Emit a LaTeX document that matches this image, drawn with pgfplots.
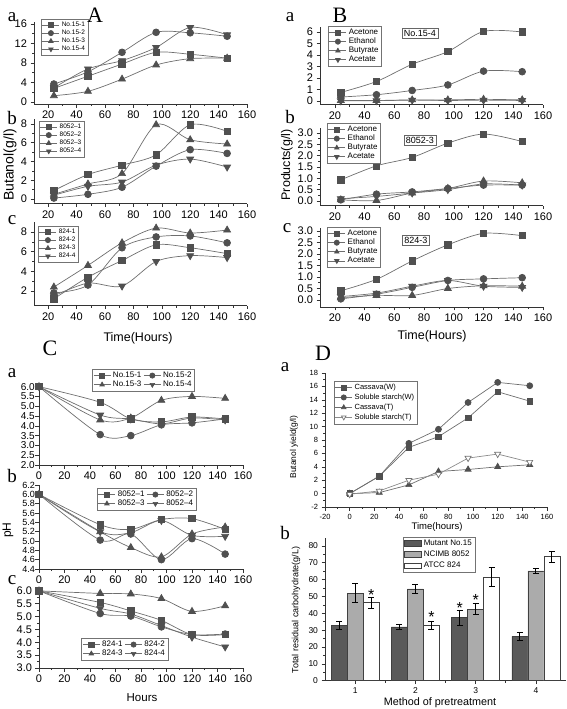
\documentclass[border=0pt]{standalone}
\usepackage{pgfplots}
\pgfplotsset{compat=1.18}
\usepackage{fontspec}
\setmainfont{Liberation Sans}
\newfontfamily\tnr{Liberation Serif}
\definecolor{lineg}{HTML}{6E6E6E}
\definecolor{markg}{HTML}{505050}
\definecolor{bardark}{HTML}{5A5A5A}
\definecolor{barlight}{HTML}{ABABAB}
\newcommand{\fs}[1]{\fontsize{#1}{#1}\selectfont}
\pgfplotsset{
 orig/.style={scale only axis, anchor=south west, axis x line=bottom, axis y line=left,
   axis line style={-, line width=0.7pt, black!80}, tick align=outside,
   tick style={black!80, line width=0.6pt}, major tick length=3.5pt, minor tick length=2pt,
   minor x tick num=1, minor y tick num=1, tick label style={font=\fs{11}},
   /pgf/number format/assume math mode=true, clip=false, legend cell align=left,
   legend style={draw=black!55, line width=0.5pt, inner sep=1pt, outer sep=0pt,
     font=\fs{6.5}, row sep=-2pt, anchor=north west},
   legend image post style={mark size=2.6pt}},
 s1/.style={smooth, color=lineg, line width=0.7pt, mark=square*, mark size=3.2pt, mark options={fill=markg, draw=markg}},
 s2/.style={smooth, color=lineg, line width=0.7pt, mark=*, mark size=3.4pt, mark options={fill=markg, draw=markg}},
 s3/.style={smooth, color=lineg, line width=0.7pt, mark=triangle*, mark size=4pt, mark options={fill=markg, draw=markg}},
 s4/.style={smooth, color=lineg, line width=0.7pt, mark=triangle*, mark size=4pt, mark options={fill=markg, draw=markg, rotate=180}},
 onedec/.style={yticklabel style={/pgf/number format/fixed, /pgf/number format/fixed zerofill, /pgf/number format/precision=1}},
}
\begin{document}
\begin{tikzpicture}
\path[use as bounding box] (0pt,0pt) rectangle (567pt,-709pt);

% ---------------- Panel A ----------------
\begin{axis}[orig, at={(34pt,-104pt)}, width=213pt, height=82.4pt, xmin=10, xmax=160, ymin=-0.4, ymax=16.5,
  xtick={20,40,...,160}, ytick={0,4,...,16}, legend style={at={(axis description cs:0.033,1.03)}}]
\addplot[s1] coordinates {(24,2.8)(48,5.3)(72,7.8)(96,10.2)(120,9.8)(146,9.0)};
\addplot[s2] coordinates {(24,3.7)(48,6.2)(72,10.2)(96,14.3)(120,14.2)(146,13.5)};
\addplot[s3] coordinates {(24,1.3)(48,2.2)(72,4.7)(96,7.6)(120,8.9)(146,9.0)};
\addplot[s4] coordinates {(24,2.9)(48,6.8)(72,8.5)(96,11.2)(120,15.3)(146,13.8)};
\legend{No.15-1,No.15-2,No.15-3,No.15-4}
\end{axis}
\begin{axis}[orig, at={(34pt,-203.7pt)}, width=213pt, height=84.6pt, xmin=10, xmax=160, ymin=-0.5, ymax=8.5,
  xtick={20,40,...,160}, ytick={0,2,...,8}, legend style={at={(axis description cs:0.023,0.977)}}]
\addplot[s1] coordinates {(24,0.9)(48,2.6)(72,3.6)(96,4.7)(120,7.9)(146,7.2)};
\addplot[s2] coordinates {(24,0.1)(48,0.5)(72,1.25)(96,3.5)(120,5.25)(146,4.85)};
\addplot[s3] coordinates {(24,0.5)(48,1.6)(72,2.7)(96,7.9)(120,6.3)(146,5.85)};
\addplot[s4] coordinates {(24,0.4)(48,1.35)(72,1.8)(96,3.6)(120,4.25)(146,3.4)};
\legend{8052--1,8052--2,8052--3,8052--4}
\end{axis}
\begin{axis}[orig, at={(34pt,-305.7pt)}, width=213pt, height=83.5pt, xmin=10, xmax=160, ymin=0.5, ymax=9,
  xtick={20,40,...,160}, ytick={2,4,...,8}, legend style={at={(axis description cs:0.019,0.954)}}]
\addplot[s1] coordinates {(24,1.2)(48,3.4)(72,5.1)(96,6.7)(120,6.4)(146,5.8)};
\addplot[s2] coordinates {(24,1.8)(48,2.6)(72,6.4)(96,7.5)(120,7.6)(146,6.9)};
\addplot[s3] coordinates {(24,2.4)(48,4.6)(72,6.9)(96,8.4)(120,7.9)(146,8.2)};
\addplot[s4] coordinates {(24,1.5)(48,2.8)(72,2.5)(96,5.0)(120,5.6)(146,5.4)};
\legend{824-1,824-2,824-3,824-4}
\end{axis}

% ---------------- Panel B ----------------
\begin{axis}[orig, at={(320pt,-104.5pt)}, width=223pt, height=77.1pt, xmin=10, xmax=160, ymin=-0.3, ymax=6.4,
  xtick={20,40,...,160}, ytick={0,1,...,6}, minor y tick num=0,
  legend style={at={(axis description cs:0.036,1.018)}, font=\fs{8}}]
\addplot[s1] coordinates {(24,0.75)(48,1.7)(72,3.2)(96,4.3)(120,6.05)(146,6.0)};
\addplot[s2] coordinates {(24,0.35)(48,0.55)(72,0.92)(96,1.4)(120,2.6)(146,2.55)};
\addplot[s3] coordinates {(24,0.05)(48,0.05)(72,0.1)(96,0.1)(120,0.15)(146,0.1)};
\addplot[s4] coordinates {(24,0.02)(48,0.03)(72,0.08)(96,0.05)(120,0.08)(146,0.05)};
\legend{Acetone,Ethanol,Butyrate,Acetate}
\node[draw=black!60, font=\fs{9}, inner sep=2pt] at (axis description cs:0.448,0.927) {No.15-4};
\end{axis}
\begin{axis}[orig, onedec, at={(320pt,-205.5pt)}, width=223pt, height=77.1pt, xmin=10, xmax=160, ymin=-0.2, ymax=3.2,
  xtick={20,40,...,160}, ytick={0,0.5,...,3.0},
  legend style={at={(axis description cs:0.031,1.07)}, font=\fs{8}}]
\addplot[s1] coordinates {(24,0.93)(48,1.55)(72,1.92)(96,2.55)(120,2.95)(146,2.62)};
\addplot[s2] coordinates {(24,0.05)(48,0.3)(72,0.4)(96,0.55)(120,0.7)(146,0.7)};
\addplot[s3] coordinates {(24,0.05)(48,0.02)(72,0.35)(96,0.55)(120,0.88)(146,0.8)};
\addplot[s4] coordinates {(24,0.1)(48,0.2)(72,0.35)(96,0.5)(120,0.75)(146,0.7)};
\legend{Acetone,Ethanol,Butyrate,Acetate}
\node[draw=black!60, font=\fs{9}, inner sep=2pt] at (axis description cs:0.448,0.85) {8052-3};
\end{axis}
\begin{axis}[orig, onedec, at={(320pt,-306.9pt)}, width=223pt, height=79.3pt, xmin=10, xmax=160, ymin=-0.3, ymax=3.15,
  xtick={20,40,...,160}, ytick={0,0.5,...,3.0},
  legend style={at={(axis description cs:0.031,1.007)}, font=\fs{8}}]
\addplot[s1] coordinates {(24,0.4)(48,0.9)(72,1.7)(96,2.4)(120,2.9)(146,2.8)};
\addplot[s2] coordinates {(24,0.05)(48,0.25)(72,0.55)(96,0.85)(120,0.92)(146,0.97)};
\addplot[s3] coordinates {(24,0.1)(48,0.2)(72,0.2)(96,0.5)(120,0.62)(146,0.6)};
\addplot[s4] coordinates {(24,0.15)(48,0.3)(72,0.6)(96,0.85)(120,0.6)(146,0.55)};
\legend{Acetone,Ethanol,Butyrate,Acetate}
\node[draw=black!60, font=\fs{9}, inner sep=2pt] at (axis description cs:0.43,0.844) {824-3};
\end{axis}

% ---------------- Panel C ----------------
\begin{axis}[orig, onedec, at={(39pt,-465pt)}, width=204pt, height=82.3pt, xmin=0, xmax=160, ymin=2, ymax=6.2,
  xtick={0,20,...,160}, ytick={2,2.5,...,6}, minor y tick num=0,
  yticklabel style={/tikz/font=\fs{10}, /tikz/inner sep=0.5pt},
  legend columns=2, legend style={at={(axis description cs:0.512,1.166)}, anchor=north, font=\fs{8}}]
\addplot[s1] coordinates {(0,6.0)(48,5.2)(72,4.35)(96,4.2)(120,4.45)(146,4.35)};
\addplot[s2] coordinates {(0,6.0)(48,3.55)(72,3.5)(96,4.05)(120,4.15)(146,4.35)};
\addplot[s3] coordinates {(0,6.0)(48,4.3)(72,4.4)(96,5.3)(120,5.5)(146,5.4)};
\addplot[s4] coordinates {(0,6.0)(48,4.55)(72,4.35)(96,4.1)(120,4.4)(146,4.3)};
\legend{No.15-1,No.15-2,No.15-3,No.15-4}
\end{axis}
\begin{axis}[orig, onedec, at={(39pt,-569pt)}, width=204pt, height=84pt, xmin=0, xmax=160, ymin=4.4, ymax=6.2,
  xtick={0,20,...,160}, ytick={4.4,4.6,...,6.2}, minor y tick num=0,
  yticklabel style={/tikz/font=\fs{9}, /tikz/inner sep=0.5pt},
  legend columns=2, legend style={at={(axis description cs:0.527,0.964)}, anchor=north, font=\fs{8}}]
\addplot[s1] coordinates {(0,6.0)(48,5.35)(72,5.25)(96,5.46)(120,5.48)(146,5.25)};
\addplot[s2] coordinates {(0,6.0)(48,5.02)(72,5.15)(96,4.6)(120,5.05)(146,4.72)};
\addplot[s3] coordinates {(0,6.0)(48,5.2)(72,4.86)(96,4.66)(120,5.15)(146,5.3)};
\addplot[s4] coordinates {(0,6.0)(48,5.2)(72,5.18)(96,5.44)(120,5.12)(146,5.1)};
\legend{8052--1,8052--2,8052--3,8052--4}
\end{axis}
\begin{axis}[orig, onedec, at={(39pt,-668pt)}, width=204pt, height=81pt, xmin=0, xmax=160, ymin=3, ymax=6.15,
  xtick={0,20,...,160}, ytick={3,3.5,...,6}, minor y tick num=1,
  legend columns=2, legend style={at={(axis description cs:0.42,0.37)}, anchor=north, font=\fs{8}}]
\addplot[s1] coordinates {(0,6.0)(48,5.55)(72,5.22)(96,4.85)(120,4.3)(146,4.3)};
\addplot[s2] coordinates {(0,6.0)(48,5.12)(72,5.02)(96,4.6)(120,4.3)(146,4.32)};
\addplot[s3] coordinates {(0,6.0)(48,5.9)(72,5.88)(96,5.7)(120,5.2)(146,5.42)};
\addplot[s4] coordinates {(0,6.0)(48,5.32)(72,5.1)(96,4.65)(120,4.2)(146,3.82)};
\legend{824-1,824-2,824-3,824-4}
\end{axis}

% ---------------- Panel D ----------------
\begin{axis}[orig, at={(325pt,-507pt)}, width=222pt, height=134pt, xmin=-20, xmax=160, ymin=-2, ymax=18,
  xtick={-20,0,...,160}, ytick={-2,0,...,18}, tick label style={font=\fs{7.5}},
  legend style={at={(axis description cs:0.04,0.94)}, font=\fs{7.5}, row sep=-1pt}]
\addplot[sharp plot, color=lineg, line width=0.7pt, mark=square*, mark size=2.8pt, mark options={fill=markg, draw=markg}] coordinates {(0,0)(24,2.6)(48,6.9)(72,8.5)(96,11.3)(120,15.2)(146,13.8)};
\addplot[sharp plot, color=lineg, line width=0.7pt, mark=*, mark size=3pt, mark options={fill=markg, draw=markg}] coordinates {(0,0)(24,2.6)(48,7.5)(72,9.6)(96,13.6)(120,16.6)(146,16.1)};
\addplot[sharp plot, color=lineg, line width=0.7pt, mark=triangle*, mark size=3.5pt, mark options={fill=markg, draw=markg}] coordinates {(0,0)(24,0.15)(48,1.3)(72,3.3)(96,3.6)(120,4.0)(146,4.3)};
\addplot[sharp plot, color=black!45, line width=0.7pt, mark=triangle*, mark size=3.5pt, mark options={fill=white, draw=black!55, rotate=180}] coordinates {(0,-0.1)(24,0.4)(48,2.0)(72,2.9)(96,5.3)(120,5.9)(146,4.7)};
\legend{Cassava(W),Soluble starch(W),Cassava(T),Soluble starch(T)}
\end{axis}
\begin{axis}[orig, at={(325pt,-680.7pt)}, width=241pt, height=143.2pt, xmin=0.5, xmax=4.5, ymin=0, ymax=85,
  xtick={1,2,3,4}, ytick={0,10,...,80}, ybar=0pt, bar width=16pt, tick label style={font=\fs{8.5}},
  area legend, legend style={at={(axis description cs:0.324,1.003)}, font=\fs{8}, row sep=0pt}]
\addplot[fill=bardark, draw=black!75, line width=0.6pt,
  error bars/.cd, y dir=both, y explicit, error bar style={black, line width=0.8pt},
  error mark options={rotate=90, black, mark size=3pt, line width=0.8pt}]
  coordinates {(1,33) +- (0,2.5) (2,32) +- (0,1.5) (3,37.5) +- (0,4.5) (4,26.3) +- (0,2.5)};
\addplot[fill=barlight, draw=black!75, line width=0.6pt,
  error bars/.cd, y dir=both, y explicit, error bar style={black, line width=0.8pt},
  error mark options={rotate=90, black, mark size=3pt, line width=0.8pt}]
  coordinates {(1,52) +- (0,5.7) (2,54.5) +- (0,2.5) (3,42.5) +- (0,3.2) (4,65.2) +- (0,1.5)};
\addplot[fill=white, draw=black!75, line width=0.6pt,
  error bars/.cd, y dir=both, y explicit, error bar style={black, line width=0.8pt},
  error mark options={rotate=90, black, mark size=3pt, line width=0.8pt}]
  coordinates {(1,46.3) +- (0,3.2) (2,33) +- (0,2.5) (3,61.5) +- (0,5.5) (4,73.6) +- (0,3.3)};
\legend{Mutant No.15,NCIMB 8052,ATCC 824}
\node[font=\fs{16}, anchor=north, xshift=16pt] at (axis cs:1,56) {*};
\node[font=\fs{16}, anchor=north, xshift=16pt] at (axis cs:2,43) {*};
\node[font=\fs{16}, anchor=north, xshift=-16pt] at (axis cs:3,48.5) {*};
\node[font=\fs{16}, anchor=north] at (axis cs:3,53) {*};
\end{axis}

% ---------------- labels ----------------
\node[font=\tnr\fs{22}] at (95pt,-15pt) {A};
\node[font=\tnr\fs{22}] at (340pt,-15pt) {B};
\node[font=\tnr\fs{22}] at (50pt,-348pt) {C};
\node[font=\tnr\fs{22}] at (323pt,-353pt) {D};
\foreach \x/\y/\t in {12/17/a,12/118/b,12/220/c,290/17/a,290/117/b,287/228/c,12/373/a,12/476/b,12/580/c,285/367/a,285/533/b}
  \node[font=\tnr\fs{19}] at (\x pt,-\y pt) {\t};
\node[font=\fs{14}, rotate=90] at (10pt,-165pt) {Butanol(g/l)};
\node[font=\fs{12.5}] at (138pt,-338pt) {Time(Hours)};
\node[font=\fs{12.5}, rotate=90] at (287pt,-165pt) {Products(g/l)};
\node[font=\fs{12.5}] at (432pt,-336pt) {Time(Hours)};
\node[font=\fs{12}, rotate=90] at (8pt,-530pt) {pH};
\node[font=\fs{11.5}] at (142pt,-698pt) {Hours};
\node[font=\fs{8.5}, rotate=90] at (294pt,-447pt) {Butanol yield(g/l)};
\node[font=\fs{9.5}] at (437pt,-527pt) {Time(hours)};
\node[font=\fs{9}, rotate=90] at (296pt,-610pt) {Total residual carbohydrate(g/L)};
\node[font=\fs{10.8}] at (440pt,-703pt) {Method of pretreatment};
\end{tikzpicture}
\end{document}
